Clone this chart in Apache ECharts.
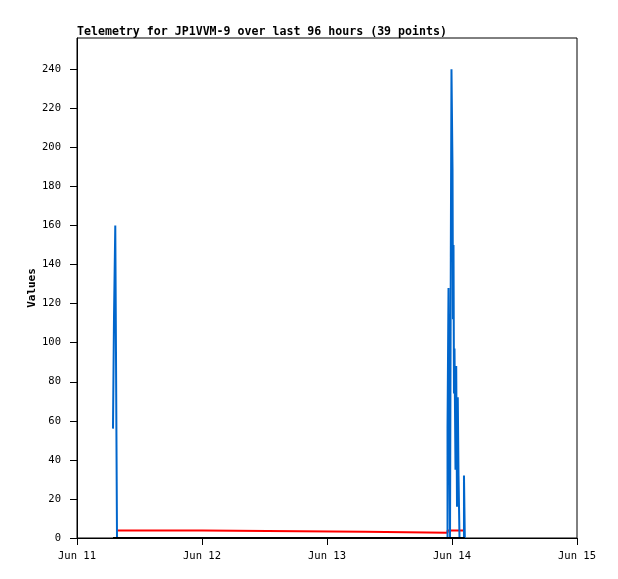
<!DOCTYPE html>
<html><head><meta charset="utf-8">
<script src="https://cdn.jsdelivr.net/npm/echarts@6/dist/echarts.min.js"></script>
<style>html,body{margin:0;padding:0;background:#fff}#c{width:618px;height:579px}</style>
</head><body><div id="c"></div>
<script>
// hours since Jun 11 00:00
const hours = [6.91, 7.10, 7.35, 7.68, 24.0, 55.3,
  71.14, 71.33, 71.46, 71.62, 71.77, 71.90, 72.10, 72.19, 72.29, 72.38, 72.48, 72.67, 72.81, 72.96, 73.11, 73.25, 73.44, 74.30, 74.46];
const blueVals = [56, 112, 160, 0, 0, 0,
  56, 128, 48, 0, 144, 240, 189, 112, 150, 74, 97, 35, 88, 16, 72, 32, 0, 32, 0];
const redVals = [null, null, null, 3.9, 3.2, 2.7,
  3.8, 3.8, 3.8, 3.8, 3.8, 3.8, 3.8, 3.8, 3.8, 3.8, 3.8, 3.8, 3.8, 3.8, 3.8, 3.8, 3.8, 3.8, 3.8];
const blackVals = [0, 0, 0, 0, 0, 0,
  0, 0, 0, 0, 0, 0, 0, 0, 0, 0, 0, 0, 0, 0, 0, 0, 0, 0, 0];
const xTickLabels = ['Jun 11', 'Jun 12', 'Jun 13', 'Jun 14', 'Jun 15'];
const titleText = 'Telemetry for JP1VVM-9 over last 96 hours (39 points)';

const mono = '"DejaVu Sans Mono", "Liberation Mono", monospace';
const pair = arr => hours.map((h, i) => [h, arr[i]]);

const chart = echarts.init(document.getElementById('c'), null, {renderer: 'canvas'});
chart.setOption({
  animation: false,
  backgroundColor: '#fff',
  title: {
    text: titleText, left: 77, top: 26, padding: 0,
    textStyle: {fontFamily: mono, fontSize: 11.6, fontWeight: 'bold', color: '#000'}
  },
  grid: {left: 77, top: 38, right: 41, bottom: 41, show: true, borderColor: '#000', borderWidth: 1, backgroundColor: 'transparent'},
  xAxis: {
    type: 'value', min: 0, max: 96, interval: 24,
    axisLine: {show: true, lineStyle: {color: '#000'}},
    axisTick: {show: true, length: 7, lineStyle: {color: '#000'}},
    splitLine: {show: false},
    axisLabel: {fontFamily: mono, fontSize: 10.5, color: '#000', margin: 13,
      formatter: v => xTickLabels[Math.round(v / 24)]}
  },
  yAxis: {
    type: 'value', min: 0, max: 256, interval: 20,
    name: 'Values', nameLocation: 'middle', nameGap: 39, nameMoveOverlap: false,
    nameTextStyle: {fontFamily: mono, fontSize: 11, fontWeight: 'bold', color: '#000'},
    axisLine: {show: true, lineStyle: {color: '#000'}},
    axisTick: {show: true, length: 7, lineStyle: {color: '#000'}},
    splitLine: {show: false},
    axisLabel: {fontFamily: mono, fontSize: 10.5, color: '#000', margin: 16, showMaxLabel: false}
  },
  series: [
    {type: 'line', step: 'end', data: pair(redVals), showSymbol: false, connectNulls: false, lineStyle: {color: '#ff0000', width: 2}},
    {type: 'line', step: 'end', data: pair(blueVals), showSymbol: false, lineStyle: {color: '#0066cc', width: 2}},
    {type: 'line', step: 'end', data: pair(blackVals), showSymbol: false, lineStyle: {color: '#000', width: 2}}
  ]
});
</script></body></html>
